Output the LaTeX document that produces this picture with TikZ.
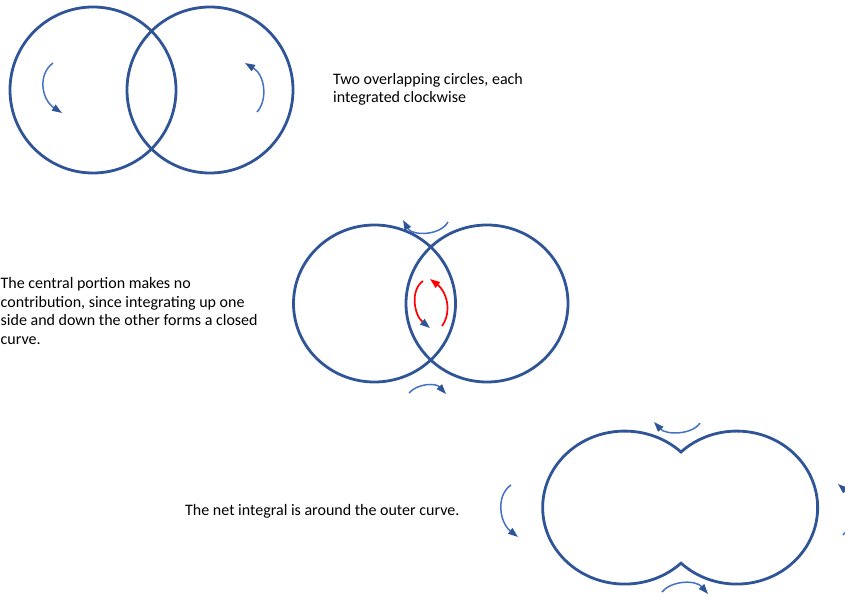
\documentclass[tikz,border=0pt]{standalone}
\usepackage{fontspec}
\setmainfont{Carlito}
\usetikzlibrary{arrows.meta}
\definecolor{ringblue}{HTML}{2F5597}
\definecolor{arrblue}{HTML}{4472C4}
\definecolor{arrred}{HTML}{FF0000}
\begin{document}
\begin{tikzpicture}[x=1pt,y=-1pt,
  ring/.style={draw=ringblue,line width=2.8pt},
  turn/.style={draw=arrblue,line width=1.5pt,-{Triangle[length=10pt,width=7pt,color=ringblue]}},
  redturn/.style={draw=arrred,line width=1.7pt,-{Triangle[length=10pt,width=7pt,color=#1]}},
  caption/.style={font=\fontsize{16}{18.5}\selectfont,align=left,inner sep=0pt,anchor=base west}]
\useasboundingbox (0,0) rectangle (845,596);
\clip (0,0) rectangle (845,596);
% Row 1
\draw[ring] (93,90) circle[radius=83];
\draw[ring] (210,90) circle[radius=83];
\draw[turn] (53,63) .. controls (37,75) and (42,100) .. (62,113);
\draw[turn] (257,112) .. controls (268,100) and (265,75) .. (245,63);
\node[caption] (t1) at (333,103) {Two overlapping circles, each\\integrated clockwise};
% Row 2
\draw[ring] (374.5,303.5) ellipse[x radius=81,y radius=78.5];
\draw[ring] (487,303.5) ellipse[x radius=81,y radius=78.5];
\draw[turn] (448,222) .. controls (440,236) and (412,236) .. (403,220);
\draw[turn] (409,393) .. controls (418,383) and (436,383) .. (446,394);
\draw[redturn=ringblue] (423,281) .. controls (410,290) and (414,315) .. (430,328);
\draw[redturn=arrred] (442,326) .. controls (452,312) and (447,292) .. (430,279);
\node[caption] (t2) at (0.5,344) {The central portion makes no\\contribution, since integrating up one\\side and down the other forms a closed\\curve.};
% Row 3
\draw[ring] (681,452) arc[start angle=-46.6,end angle=-313.4,x radius=82,y radius=76.5]
  arc[start angle=133.4,end angle=-133.4,x radius=81,y radius=76.5] -- cycle;
\draw[turn] (700,423) .. controls (692,435) and (666,435) .. (654,422);
\draw[turn] (662,592) .. controls (672,580) and (696,580) .. (708,594);
\draw[turn] (511,485) .. controls (496,495) and (499,522) .. (518,537);
\draw[turn] (843,535) .. controls (856,522) and (853,497) .. (838,484);
\node[caption] (t3) at (185,515.5) {The net integral is around the outer curve.};
\end{tikzpicture}
\end{document}
